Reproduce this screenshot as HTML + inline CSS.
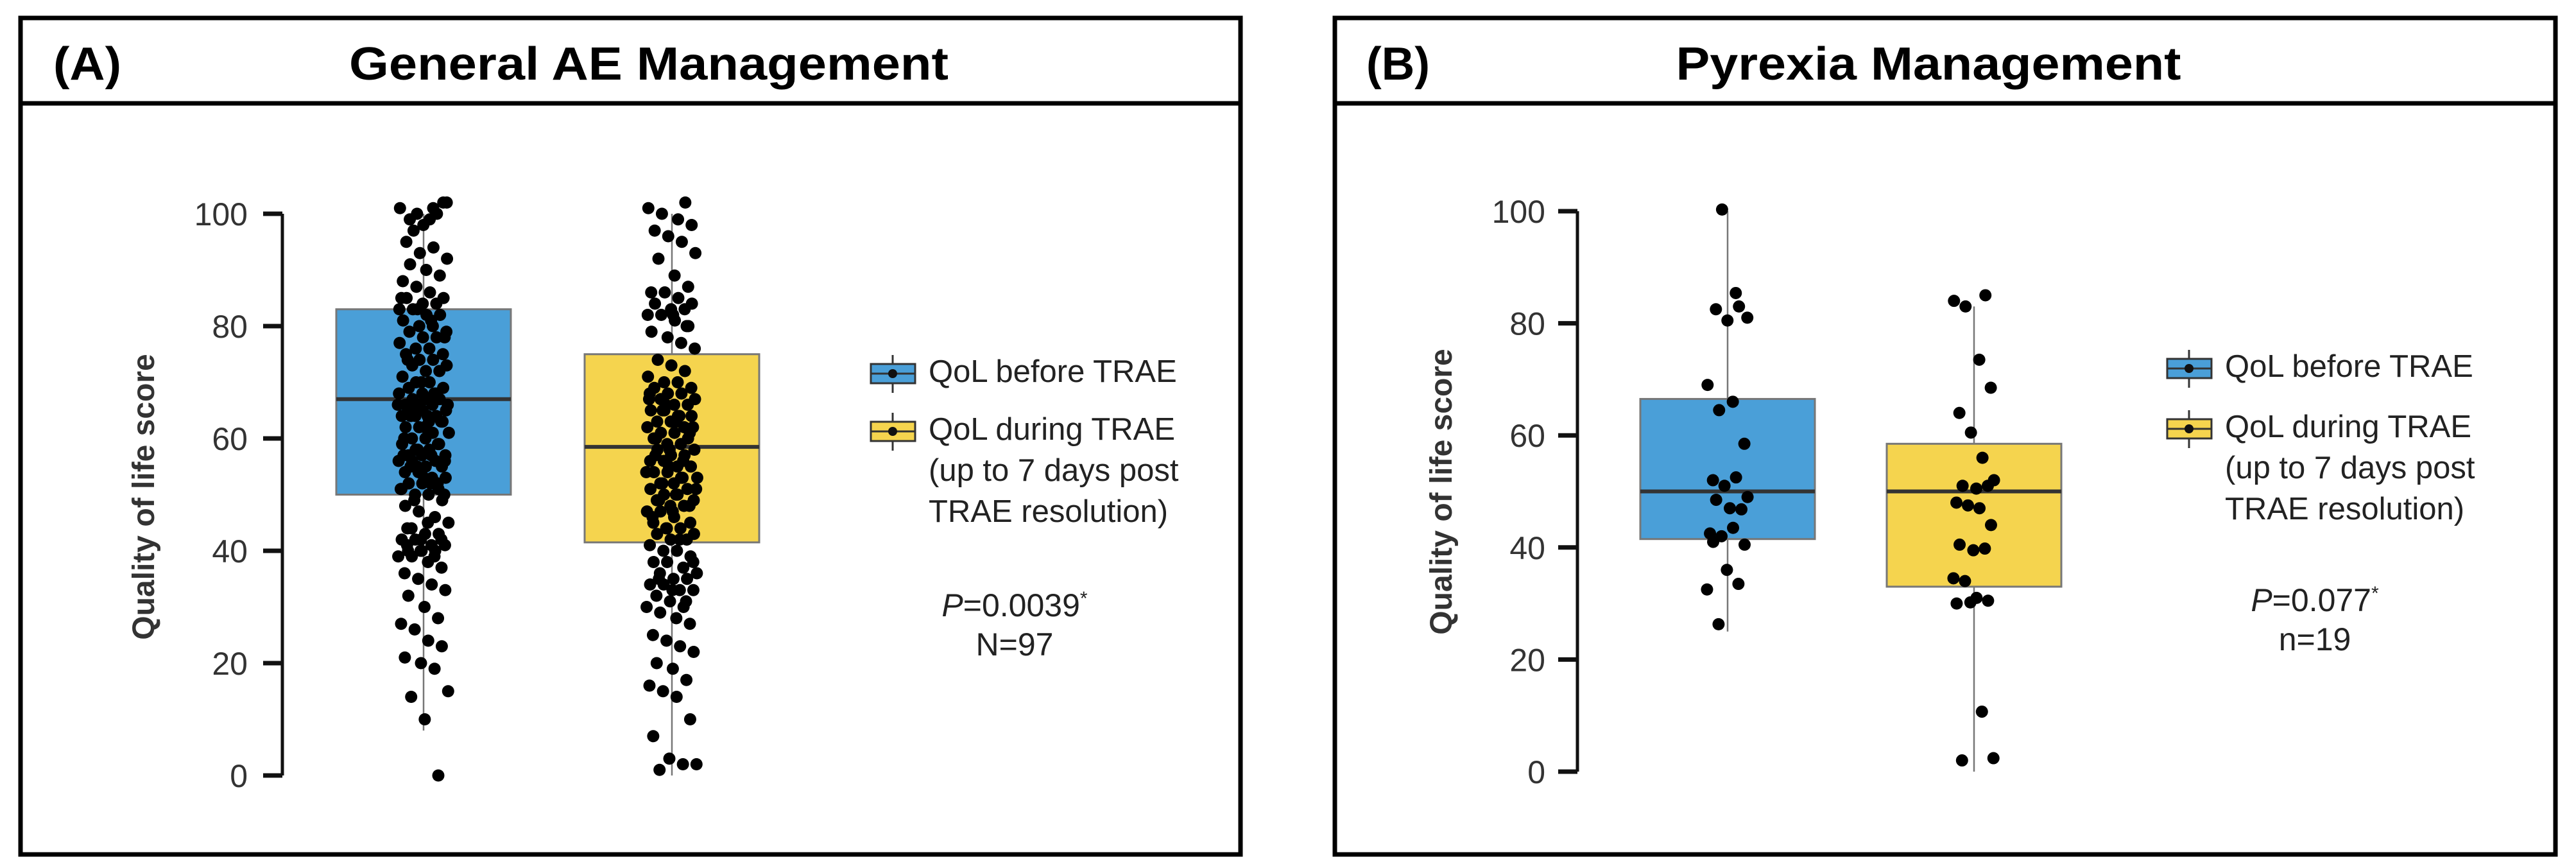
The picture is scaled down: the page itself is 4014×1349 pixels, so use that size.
<!DOCTYPE html>
<html><head><meta charset="utf-8"><style>
html,body{margin:0;padding:0;background:#fff;}
svg{display:block;font-family:"Liberation Sans",Arial,sans-serif;}
</style></head><body>
<svg id="chart" width="4014" height="1349" viewBox="0 0 4014 1349" xmlns="http://www.w3.org/2000/svg">
<g id="gA"></g>
<g id="gB"></g>
</svg>
<script>
// ---- data ----
const groupNames = ["QoL before TRAE", "QoL during TRAE"];
const tickValues = [0, 20, 40, 60, 80, 100];
const boxA1 = {q1: 50, med: 67, q3: 83, lo: 8, hi: 100};
const boxA2 = {q1: 41.5, med: 58.5, q3: 75, lo: 0, hi: 100};
const boxB1 = {q1: 41.5, med: 50, q3: 66.5, lo: 25, hi: 100};
const boxB2 = {q1: 33, med: 50, q3: 58.5, lo: 0, hi: 83};
const pointsA1 = [100,101,102,99,98,100,101,97,99,102,95,93,94,92,91,90,89,88,87,86,85,85,84,84,83,83,82,82,81,80,80,79,79,78,78,77,76,76,75,75,74,74,73,73,72,72,71,70,70,69,69,68,68,68,67,67,67,66,66,66,65,65,65,64,64,64,63,63,62,62,61,61,60,60,59,59,58,58,57,57,57,56,56,56,55,55,54,54,53,53,52,52,51,51,50,50,49,48,47,46,45,44,43,43,42,42,41,41,40,40,40,39,39,38,37,36,35,34,33,32,30,28,27,26,24,23,21,20,19,15,14,10,0,85,83,81,78,74,70,67,66,65,64,63,60,58,57,56,55,53,52,51,49,45,42,41,40,68,66,64,62,59,57,55,52,50,44,42,39];
const pointsA2 = [102,101,100,99,98,97,96,95,93,92,89,87,86,86,85,84,84,83,83,82,82,81,80,79,78,77,76,74,73,72,71,70,70,69,69,68,68,67,67,66,66,65,65,64,64,63,63,62,62,61,61,60,60,59,59,58,58,57,57,56,56,55,55,54,54,53,53,52,52,51,51,50,50,49,49,48,48,47,47,46,45,45,44,44,43,43,42,42,41,40,40,39,38,38,37,36,36,35,35,34,34,33,33,32,31,30,30,29,28,27,25,24,23,22,20,19,17,16,15,14,10,7,3,2,2,1,82,80,68,66,64,62,60,58,56,54,52,50,48,46,44,42,38,35,33,31,67,65,63,61,57,55,53,51,49,47];
const pointsB1 = [100.3,85.4,81,82.5,80.5,83,69,64.5,66,58.5,52,51,52.5,49,48.5,47,46.8,42.5,42,43.5,40.5,41,36,33.5,32.5,26.3];
const pointsB2 = [85,84,83,73.5,68.5,64,60.5,56,52,51,50.5,51,48,47.5,47,44,40.5,39.5,39.8,34.5,34,31,30.5,30,30.2,10.7,2.4,2];

const NS = "http://www.w3.org/2000/svg";
function mk(parent, tag, attrs, text){
  const e = document.createElementNS(NS, tag);
  for (const k in attrs) e.setAttribute(k, attrs[k]);
  if (text !== undefined) e.textContent = text;
  parent.appendChild(e);
  return e;
}
function jitter(i){ return (((i*37+11)%29)/14 - 1) * 0.95 + ((((i*13)%7)/3.5)-1)*0.05; }

function panel(g, cfg){
  const fr = mk(g,'rect',{x:cfg.left,y:28,width:cfg.right-cfg.left,height:1303,fill:'none',stroke:'#000','stroke-width':7});
  
  
  const tl = mk(g,'line',{x1:cfg.left,x2:cfg.right,y1:161,y2:161,stroke:'#000','stroke-width':7});
  
  
  const lab = mk(g,'text',{x:cfg.labX,y:124,'font-size':72,'font-weight':'bold',fill:'#000',textLength:cfg.labW,lengthAdjust:'spacingAndGlyphs'},cfg.label);
  
  
  const tt = mk(g,'text',{x:cfg.titleX,y:124,'font-size':72,'font-weight':'bold','text-anchor':'middle',fill:'#000',textLength:cfg.titleW,lengthAdjust:'spacingAndGlyphs'},cfg.title);
  
  

  const y = v => cfg.y0 + (cfg.y100 - cfg.y0) * v / 100;
  const ax = mk(g,'line',{x1:cfg.axisX,x2:cfg.axisX,y1:y(0),y2:y(100),stroke:'#111','stroke-width':5});
  
  
  tickValues.forEach(t=>{
    const tk = mk(g,'line',{x1:cfg.axisX-30,x2:cfg.axisX,y1:y(t),y2:y(t),stroke:'#111','stroke-width':7});
    
    
    const tx = mk(g,'text',{x:cfg.tickRight,y:y(t)+18,'font-size':50,'text-anchor':'end',fill:'#333'},String(t));
    
    
  });
  const yt = mk(g,'text',{x:0,y:0,'font-size':48,'font-weight':'bold','text-anchor':'middle',fill:'#333',transform:`translate(${cfg.ytX},${cfg.ytY}) rotate(-90)`},'Quality of life score');
  
  

  const colors = ['#4a9fd8','#f5d44e'];
  cfg.boxes.forEach((b,i)=>{
    const cx = cfg.centers[i], hw = 136;
    const wl = mk(g,'line',{x1:cx,x2:cx,y1:y(b.lo),y2:y(b.hi),stroke:'#777','stroke-width':2.5});
    
    
    const r = mk(g,'rect',{x:cx-hw,y:y(b.q3),width:2*hw,height:y(b.q1)-y(b.q3),fill:colors[i],stroke:'#777','stroke-width':3});
    
    
    const md = mk(g,'line',{x1:cx-hw,x2:cx+hw,y1:y(b.med),y2:y(b.med),stroke:'#333','stroke-width':6});
    
    
  });
  cfg.points.forEach((pts,i)=>{
    const cx = cfg.centers[i];
    pts.forEach((v,k)=>{
      const c = mk(g,'circle',{cx:cx+jitter(k+i*5)*cfg.jit,cy:y(v),r:cfg.r,fill:'#000'});
      
      
    });
  });
  const ly = cfg.legY;
  const legLines = [[groupNames[0]],[groupNames[1],'(up to 7 days post','TRAE resolution)']];
  legLines.forEach((lines,i)=>{
    const cy = ly[i], ix = cfg.legX;
    const lg = mk(g,'g',{});
    
    
    mk(lg,'line',{x1:ix+34,x2:ix+34,y1:cy-29,y2:cy+30,stroke:'#333','stroke-width':3});
    mk(lg,'rect',{x:ix,y:cy-15,width:69,height:30,fill:colors[i],stroke:'#333','stroke-width':3});
    mk(lg,'line',{x1:ix,x2:ix+69,y1:cy,y2:cy,stroke:'#333','stroke-width':3});
    mk(lg,'circle',{cx:ix+34,cy:cy,r:7,fill:'#111'});
    lines.forEach((t,j)=>{
      mk(lg,'text',{x:ix+90,y:cy+13+j*64,'font-size':49,fill:'#222'},t);
    });
  });
  const p = mk(g,'text',{x:cfg.pX,y:cfg.pY,'font-size':50,'text-anchor':'middle',fill:'#222'});
  
  
  mk(p,'tspan',{'font-style':'italic'},'P');
  mk(p,'tspan',{},cfg.pVal);
  mk(p,'tspan',{'font-size':30,dy:-18},'*');
  const n = mk(g,'text',{x:cfg.pX,y:cfg.pY+61,'font-size':50,'text-anchor':'middle',fill:'#222'},cfg.nText);
  
  
}

panel(document.getElementById('gA'),{
  left:32,right:1933,label:'(A)',labX:83,labW:106,title:'General AE Management',titleX:1011,titleW:934,
  y0:1208,y100:333,axisX:440,tickRight:386,ytX:240,ytY:774,
  boxes:[boxA1,boxA2],centers:[660,1047],points:[pointsA1,pointsA2],jit:40,r:9.5,
  legX:1357,legY:[582,672],pX:1581,pY:960,pVal:'=0.0039',nText:'N=97'
});
panel(document.getElementById('gB'),{
  left:2080,right:3982,label:'(B)',labX:2129,labW:99,title:'Pyrexia Management',titleX:3005,titleW:787,
  y0:1202,y100:329,axisX:2458,tickRight:2408,ytX:2262,ytY:766,
  boxes:[boxB1,boxB2],centers:[2692,3076],points:[pointsB1,pointsB2],jit:34,r:9.5,
  legX:3377,legY:[574,668],pX:3607,pY:952,pVal:'=0.077',nText:'n=19'
});
</script>
</body></html>
